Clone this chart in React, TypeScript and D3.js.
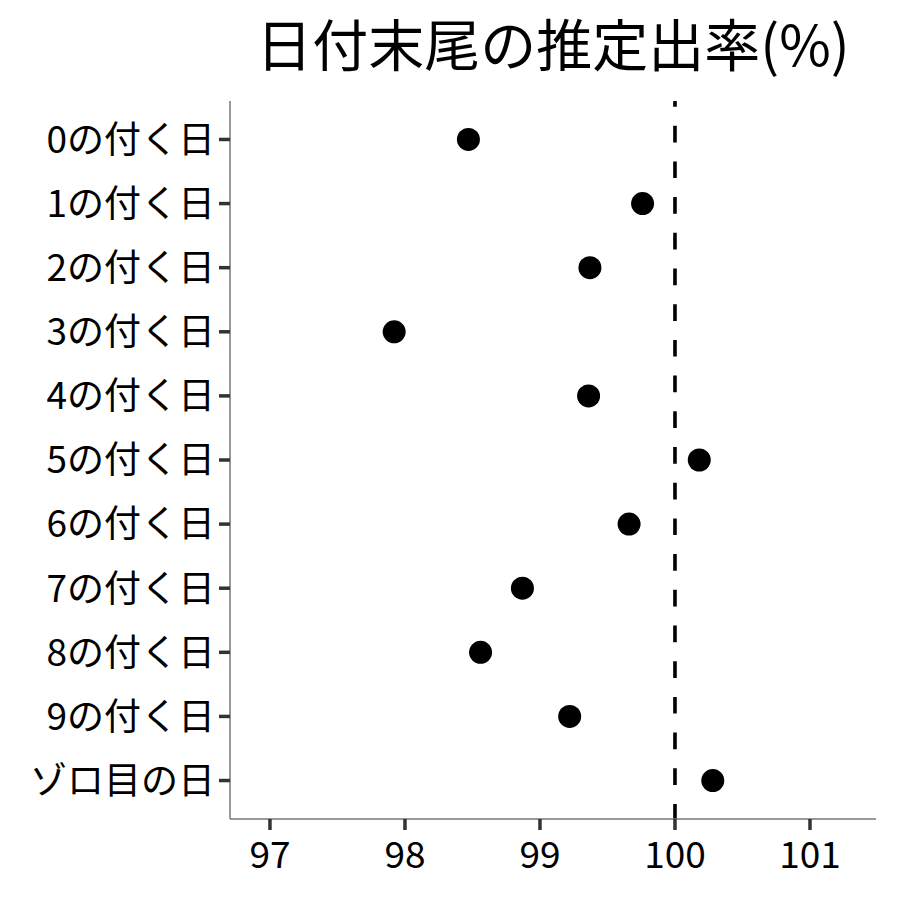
import React from "react";
import * as d3 from "d3";

// data
const categories = [
  "0の付く日",
  "1の付く日",
  "2の付く日",
  "3の付く日",
  "4の付く日",
  "5の付く日",
  "6の付く日",
  "7の付く日",
  "8の付く日",
  "9の付く日",
  "ゾロ目の日",
];
const rates = [98.47, 99.76, 99.37, 97.92, 99.36, 100.18, 99.66, 98.87, 98.56, 99.22, 100.28];
const xTicks = [97, 98, 99, 100, 101];
const xDomain = [96.704, 101.489];
const referenceRate = 100;
const title = "日付末尾の推定出率(%)";

const W = 900;
const H = 900;
const margin = { top: 101, right: 24, bottom: 81, left: 230 };
const FONT = "'Noto Sans CJK JP', 'Noto Sans', sans-serif";

export default function App() {
  const x = d3
    .scaleLinear()
    .domain(xDomain)
    .range([margin.left, W - margin.right]);

  const y = d3
    .scalePoint<string>()
    .domain(categories)
    .range([margin.top, H - margin.bottom])
    .padding(0.6);

  const panelTop = margin.top;
  const panelBottom = H - margin.bottom;
  const tickLen = 11;

  return (
    <svg
      width={W}
      height={H}
      viewBox={`0 0 ${W} ${H}`}
      style={{ position: "absolute", left: 0, top: 0, background: "#fff" }}
      fontFamily={FONT}
    >
      {/* title, centred over the panel */}
      <text
        x={(margin.left + W - margin.right) / 2}
        y={66}
        textAnchor="middle"
        fontSize={56}
        fill="#000"
      >
        {title}
      </text>

      {/* reference line */}
      <line
        x1={x(referenceRate)}
        x2={x(referenceRate)}
        y1={panelTop}
        y2={panelBottom}
        stroke="#000"
        strokeWidth={3.6}
        strokeDasharray="16.7 19"
        strokeDashoffset={11}
      />

      {/* points */}
      {categories.map((c, i) => (
        <circle key={c} cx={x(rates[i])} cy={y(c)} r={11.5} fill="#000" />
      ))}

      {/* y axis */}
      <line x1={margin.left} x2={margin.left} y1={panelTop} y2={panelBottom} stroke="#777" strokeWidth={1.5} />
      {categories.map((c) => (
        <g key={c} transform={`translate(0,${y(c)})`}>
          <line x1={margin.left - tickLen} x2={margin.left} stroke="#333" strokeWidth={3.5} />
          <text
            x={margin.left - tickLen - 4}
            dy="0.36em"
            textAnchor="end"
            fontSize={37}
            fill="#000"
          >
            {c}
          </text>
        </g>
      ))}

      {/* x axis */}
      <line x1={margin.left} x2={W - margin.right} y1={panelBottom} y2={panelBottom} stroke="#777" strokeWidth={1.5} />
      {xTicks.map((t) => (
        <g key={t} transform={`translate(${x(t)},0)`}>
          <line y1={panelBottom} y2={panelBottom + tickLen} stroke="#333" strokeWidth={3.5} />
          <text y={panelBottom + tickLen + 38} textAnchor="middle" fontSize={37} fill="#000">
            {t}
          </text>
        </g>
      ))}
    </svg>
  );
}
